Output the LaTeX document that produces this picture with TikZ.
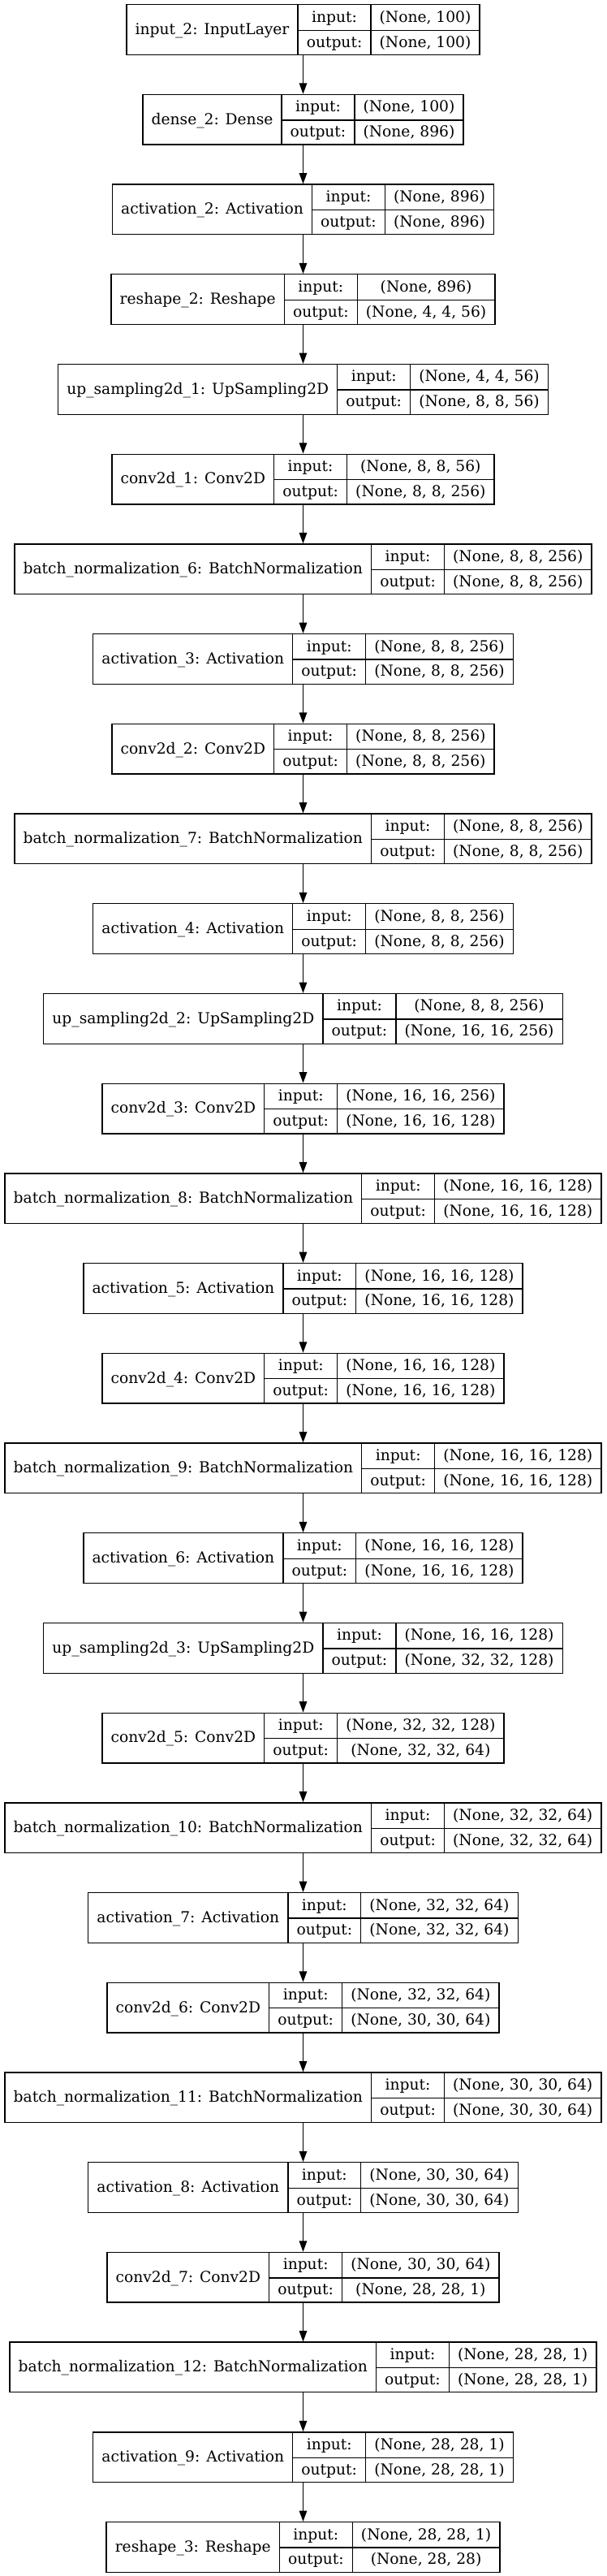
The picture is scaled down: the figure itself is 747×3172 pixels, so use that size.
\documentclass[tikz,border=0pt]{standalone}
\usepackage{fontspec}
\setmainfont{DejaVu Serif}
\usetikzlibrary{arrows.meta,positioning}
\setlength{\tabcolsep}{10.67pt}
\setlength{\arrayrulewidth}{1.3pt}
\newcommand{\rowstrut}{\rule[-9.35pt]{0pt}{30.85pt}}
% one keras layer record: name | input:/output: | shapes
\newcommand{\lrec}[3]{%
  \begin{tabular}{c|c|c}
    \raisebox{-15.2pt}[0pt][0pt]{#1} & \rowstrut input: & #2\\ \cline{2-3}
     & \rowstrut output: & #3
  \end{tabular}}
\tikzset{
    %Define standard arrow tip
    >={Triangle[length=13.3pt,width=9.5pt]},
    layer/.style={
      rectangle,
      draw=black, line width=1.3pt,
      fill=white,
      inner sep=0pt,
      font=\fontsize{18.67pt}{22pt}\selectfont},
    every edge/.append style={line width=1.3pt},
}
\begin{document}
\begin{tikzpicture}[node distance=110.71pt]
    \useasboundingbox (-373.5pt,5pt) rectangle (373.5pt,-3167pt);
    \node (input2) [layer, anchor=north] at (0,0)
          {\lrec{input\_2: InputLayer}{(None, 100)}{(None, 100)}};
    \node (dense2) [layer] [below of=input2]
          {\lrec{dense\_2: Dense}{(None, 100)}{(None, 896)}}
          edge [<-] (input2);
    \node (act2) [layer] [below of=dense2]
          {\lrec{activation\_2: Activation}{(None, 896)}{(None, 896)}}
          edge [<-] (dense2);
    \node (reshape2) [layer] [below of=act2]
          {\lrec{reshape\_2: Reshape}{(None, 896)}{(None, 4, 4, 56)}}
          edge [<-] (act2);
    \node (up1) [layer] [below of=reshape2]
          {\lrec{up\_sampling2d\_1: UpSampling2D}{(None, 4, 4, 56)}{(None, 8, 8, 56)}}
          edge [<-] (reshape2);
    \node (conv1) [layer] [below of=up1]
          {\lrec{conv2d\_1: Conv2D}{(None, 8, 8, 56)}{(None, 8, 8, 256)}}
          edge [<-] (up1);
    \node (bn6) [layer] [below of=conv1]
          {\lrec{batch\_normalization\_6: BatchNormalization}{(None, 8, 8, 256)}{(None, 8, 8, 256)}}
          edge [<-] (conv1);
    \node (act3) [layer] [below of=bn6]
          {\lrec{activation\_3: Activation}{(None, 8, 8, 256)}{(None, 8, 8, 256)}}
          edge [<-] (bn6);
    \node (conv2) [layer] [below of=act3]
          {\lrec{conv2d\_2: Conv2D}{(None, 8, 8, 256)}{(None, 8, 8, 256)}}
          edge [<-] (act3);
    \node (bn7) [layer] [below of=conv2]
          {\lrec{batch\_normalization\_7: BatchNormalization}{(None, 8, 8, 256)}{(None, 8, 8, 256)}}
          edge [<-] (conv2);
    \node (act4) [layer] [below of=bn7]
          {\lrec{activation\_4: Activation}{(None, 8, 8, 256)}{(None, 8, 8, 256)}}
          edge [<-] (bn7);
    \node (up2) [layer] [below of=act4]
          {\lrec{up\_sampling2d\_2: UpSampling2D}{(None, 8, 8, 256)}{(None, 16, 16, 256)}}
          edge [<-] (act4);
    \node (conv3) [layer] [below of=up2]
          {\lrec{conv2d\_3: Conv2D}{(None, 16, 16, 256)}{(None, 16, 16, 128)}}
          edge [<-] (up2);
    \node (bn8) [layer] [below of=conv3]
          {\lrec{batch\_normalization\_8: BatchNormalization}{(None, 16, 16, 128)}{(None, 16, 16, 128)}}
          edge [<-] (conv3);
    \node (act5) [layer] [below of=bn8]
          {\lrec{activation\_5: Activation}{(None, 16, 16, 128)}{(None, 16, 16, 128)}}
          edge [<-] (bn8);
    \node (conv4) [layer] [below of=act5]
          {\lrec{conv2d\_4: Conv2D}{(None, 16, 16, 128)}{(None, 16, 16, 128)}}
          edge [<-] (act5);
    \node (bn9) [layer] [below of=conv4]
          {\lrec{batch\_normalization\_9: BatchNormalization}{(None, 16, 16, 128)}{(None, 16, 16, 128)}}
          edge [<-] (conv4);
    \node (act6) [layer] [below of=bn9]
          {\lrec{activation\_6: Activation}{(None, 16, 16, 128)}{(None, 16, 16, 128)}}
          edge [<-] (bn9);
    \node (up3) [layer] [below of=act6]
          {\lrec{up\_sampling2d\_3: UpSampling2D}{(None, 16, 16, 128)}{(None, 32, 32, 128)}}
          edge [<-] (act6);
    \node (conv5) [layer] [below of=up3]
          {\lrec{conv2d\_5: Conv2D}{(None, 32, 32, 128)}{(None, 32, 32, 64)}}
          edge [<-] (up3);
    \node (bn10) [layer] [below of=conv5]
          {\lrec{batch\_normalization\_10: BatchNormalization}{(None, 32, 32, 64)}{(None, 32, 32, 64)}}
          edge [<-] (conv5);
    \node (act7) [layer] [below of=bn10]
          {\lrec{activation\_7: Activation}{(None, 32, 32, 64)}{(None, 32, 32, 64)}}
          edge [<-] (bn10);
    \node (conv6) [layer] [below of=act7]
          {\lrec{conv2d\_6: Conv2D}{(None, 32, 32, 64)}{(None, 30, 30, 64)}}
          edge [<-] (act7);
    \node (bn11) [layer] [below of=conv6]
          {\lrec{batch\_normalization\_11: BatchNormalization}{(None, 30, 30, 64)}{(None, 30, 30, 64)}}
          edge [<-] (conv6);
    \node (act8) [layer] [below of=bn11]
          {\lrec{activation\_8: Activation}{(None, 30, 30, 64)}{(None, 30, 30, 64)}}
          edge [<-] (bn11);
    \node (conv7) [layer] [below of=act8]
          {\lrec{conv2d\_7: Conv2D}{(None, 30, 30, 64)}{(None, 28, 28, 1)}}
          edge [<-] (act8);
    \node (bn12) [layer] [below of=conv7]
          {\lrec{batch\_normalization\_12: BatchNormalization}{(None, 28, 28, 1)}{(None, 28, 28, 1)}}
          edge [<-] (conv7);
    \node (act9) [layer] [below of=bn12]
          {\lrec{activation\_9: Activation}{(None, 28, 28, 1)}{(None, 28, 28, 1)}}
          edge [<-] (bn12);
    \node (reshape3) [layer] [below of=act9]
          {\lrec{reshape\_3: Reshape}{(None, 28, 28, 1)}{(None, 28, 28)}}
          edge [<-] (act9);
\end{tikzpicture}
\end{document}
